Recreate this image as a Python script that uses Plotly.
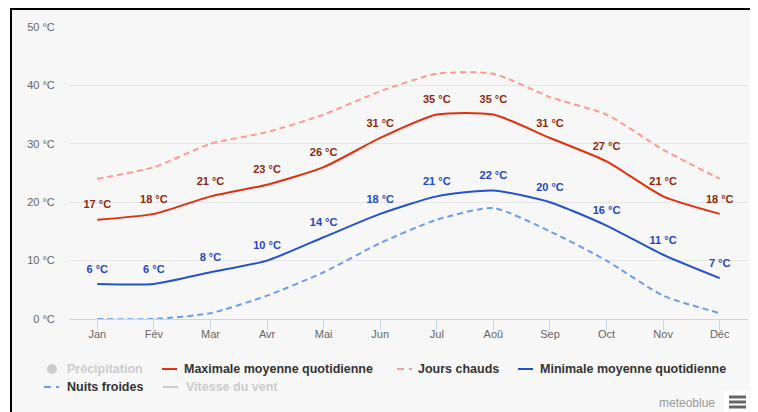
import plotly.graph_objects as go

months = ["Jan", "Fév", "Mar", "Avr", "Mai", "Jun", "Jul", "Aoû", "Sep", "Oct", "Nov", "Déc"]
max_temp = [17, 18, 21, 23, 26, 31, 35, 35, 31, 27, 21, 18]
min_temp = [6, 6, 8, 10, 14, 18, 21, 22, 20, 16, 11, 7]
hot_days = [24, 26, 30, 32, 35, 39, 42, 42, 38, 35, 29, 24]
cold_nights = [0, 0, 1, 4, 8, 13, 17, 19, 15, 10, 4, 1]
y_ticks = [0, 10, 20, 30, 40, 50]
y_ticktext = [f"{v} °C" for v in y_ticks]

# page body has an 8px margin: figure pixel = screen pixel - 8
OFF = 8
W, H = 750, 404
L, T = 69 - OFF, 27 - OFF
PLOT_R, PLOT_B = 748 - OFF, 319 - OFF
R, B = W - PLOT_R, H - PLOT_B
PW, PH = PLOT_R - L, PLOT_B - T


def px(x):
    return (x - OFF - L) / PW


def py(y):
    return (PLOT_B - (y - OFF)) / PH


FONT = "Liberation Sans"
SM = 0.6
fig = go.Figure()

fig.add_trace(go.Scatter(x=months, y=hot_days, mode="lines", name="Jours chauds",
                         line=dict(color="#ff9b8c", width=2, dash="6px,4px", shape="spline", smoothing=SM),
                         hoverinfo="skip"))
fig.add_trace(go.Scatter(x=months, y=cold_nights, mode="lines", name="Nuits froides",
                         line=dict(color="#6b9ee8", width=2, dash="6px,4px", shape="spline", smoothing=SM),
                         hoverinfo="skip"))
fig.add_trace(go.Scatter(x=months, y=max_temp, mode="lines+markers+text", name="Maximale moyenne quotidienne",
                         line=dict(color="#e1300e", width=2, shape="spline", smoothing=SM),
                         marker=dict(size=12, opacity=0),
                         text=[f"{v} °C" for v in max_temp], textposition="top center",
                         textfont=dict(family=FONT, size=11, color="#8e2a0c", weight="bold"),
                         hoverinfo="skip"))
fig.add_trace(go.Scatter(x=months, y=min_temp, mode="lines+markers+text", name="Minimale moyenne quotidienne",
                         line=dict(color="#2253c8", width=2, shape="spline", smoothing=SM),
                         marker=dict(size=12, opacity=0),
                         text=[f"{v} °C" for v in min_temp], textposition="top center",
                         textfont=dict(family=FONT, size=11, color="#2448c0", weight="bold"),
                         hoverinfo="skip"))

shapes = []
annotations = []

# background frame
shapes.append(dict(type="rect", xref="paper", yref="paper", x0=px(11), x1=px(760), y0=py(414), y1=py(9),
                   fillcolor="#f7f7f7", line=dict(width=0), layer="below"))
shapes.append(dict(type="line", xref="paper", yref="paper", x0=px(10), x1=px(760), y0=py(9), y1=py(9),
                   line=dict(color="black", width=2)))
shapes.append(dict(type="line", xref="paper", yref="paper", x0=px(11), x1=px(11), y0=py(8), y1=py(414),
                   line=dict(color="black", width=2)))


def leg_text(x, y, s, color="#333333"):
    annotations.append(dict(xref="paper", yref="paper", x=px(x), y=py(y), text=s, showarrow=False,
                            xanchor="left", yanchor="middle",
                            font=dict(family=FONT, size=12.5, color=color, weight="bold")))


def leg_line(x0, x1, y, color, width=2):
    shapes.append(dict(type="line", xref="paper", yref="paper", x0=px(x0), x1=px(x1), y0=py(y), y1=py(y),
                       line=dict(color=color, width=width)))


r1, r2 = 369, 387
shapes.append(dict(type="circle", xref="paper", yref="paper", x0=px(47), x1=px(57), y0=py(r1 + 5), y1=py(r1 - 5),
                   fillcolor="#cccccc", line=dict(width=0)))
leg_text(65, r1, "Précipitation", "#cccccc")
leg_line(162, 177, r1, "#e1300e")
leg_text(182, r1, "Maximale moyenne quotidienne")
leg_line(397, 404, r1, "#ff9b8c")
leg_line(409, 412, r1, "#ff9b8c")
leg_text(416, r1, "Jours chauds")
leg_line(518, 533, r1, "#2253c8")
leg_text(538, r1, "Minimale moyenne quotidienne")
leg_line(44, 51, r2, "#6b9ee8")
leg_line(56, 59, r2, "#6b9ee8")
leg_text(65, r2, "Nuits froides")
leg_line(163, 178, r2, "#cccccc")
leg_text(184, r2, "Vitesse du vent", "#cccccc")

# credits and menu
annotations.append(dict(xref="paper", yref="paper", x=px(717), y=py(403), text="meteoblue", showarrow=False,
                        xanchor="right", yanchor="middle", font=dict(family=FONT, size=12, color="#999999")))
shapes.append(dict(type="rect", xref="paper", yref="paper", x0=px(724), x1=px(749), y0=py(414), y1=py(391),
                   fillcolor="white", line=dict(width=0)))
for yy in (397, 402, 407):
    leg_line(729, 746, yy, "#666666", 3)

fig.update_layout(
    width=W, height=H,
    margin=dict(l=L, r=R, t=T, b=B),
    paper_bgcolor="white", plot_bgcolor="#f7f7f7",
    showlegend=False,
    shapes=shapes, annotations=annotations,
    font=dict(family=FONT, size=11, color="#666666"),
    xaxis=dict(type="category", range=[-0.5, 11.5], showgrid=False, zeroline=False,
               showline=True, linecolor="#ccd6eb", linewidth=1,
               ticks="outside", ticklen=10, tickcolor="#ccd6eb", tickwidth=1, ticklabelstandoff=-5,
               tickfont=dict(family=FONT, size=11, color="#666666"), fixedrange=True),
    yaxis=dict(range=[0, 50], tickvals=y_ticks, ticktext=y_ticktext, showgrid=True,
               gridcolor="#e6e6e6", gridwidth=1, zeroline=False, showline=False,
               ticks="outside", ticklen=11, tickcolor="rgba(0,0,0,0)",
               tickfont=dict(family=FONT, size=11, color="#666666"), fixedrange=True),
)

fig.write_html("out.html")
